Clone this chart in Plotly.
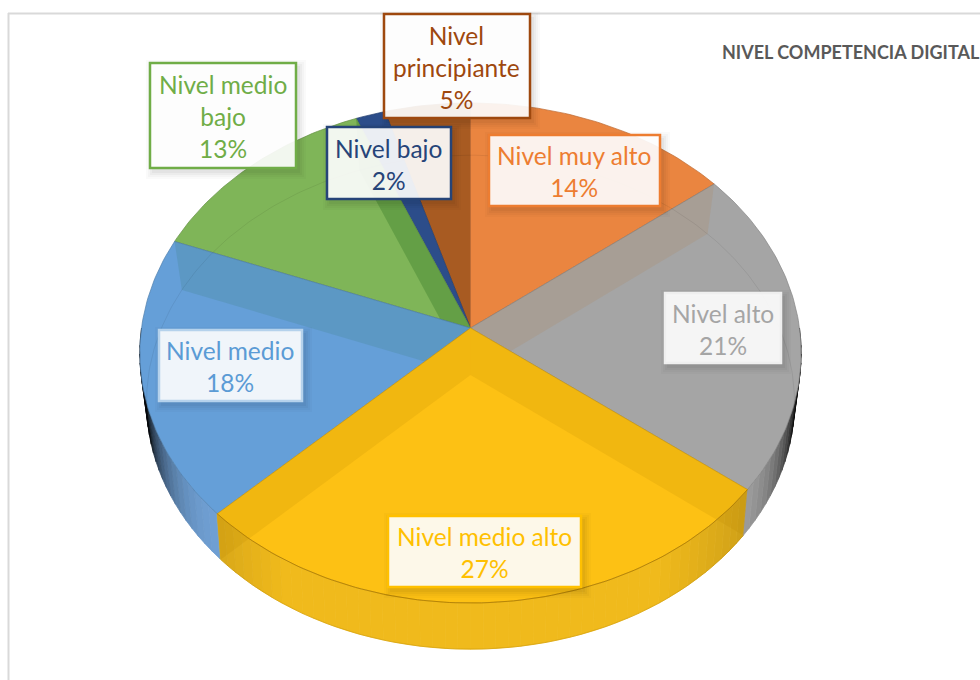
import math
import plotly.graph_objects as go

# ---- data ----
categories = ["Nivel muy alto", "Nivel alto", "Nivel medio alto", "Nivel medio",
              "Nivel medio bajo", "Nivel bajo", "Nivel principiante"]
shares = [14.4, 21.1, 27.2, 18.2, 12.9, 1.6, 4.6]
title_text = "NIVEL COMPETENCIA DIGITAL"

# ---- styles ----
face_rgb = [(234, 133, 64), (165, 165, 165), (253, 193, 20), (101, 159, 216),
            (127, 181, 88), (44, 77, 138), (168, 91, 34)]
wall_rgb = [(237, 125, 49), (165, 165, 165), (240, 186, 28), (112, 160, 212),
            (112, 173, 71), (38, 68, 120), (158, 72, 14)]
label_rgb = ["#ED7D31", "#A5A5A5", "#FFC000", "#5B9BD5", "#70AD47", "#264478", "#9E480E"]
border_col = ["#ED7D31", "#EFEFEF", "#FFC000", "#B5D2EC", "#70AD47", "#264478", "#9E480E"]
box_fill = ["rgba(255,255,255,0.91)"] * 7
band_col = ["rgba(0,0,0,0)", "rgba(180,120,60,0.15)", "rgba(180,130,0,0.16)",
            "rgba(60,125,120,0.2)", "rgba(40,110,30,0.3)", "rgba(0,0,0,0)", "rgba(0,0,0,0)"]
FONT = "Lato, Carlito, Calibri, sans-serif"

# ---- label box layout: left, right, top, bottom ----
boxes = [(489, 660, 135, 206), (665, 781, 293, 363), (388, 581, 516, 587), (159, 302, 330, 401),
         (150, 296, 63, 168), (327, 451, 127, 199), (384, 530, 14, 118)]
label_lines = [["Nivel muy alto"], ["Nivel alto"], ["Nivel medio alto"], ["Nivel medio"],
               ["Nivel medio", "bajo"], ["Nivel bajo"], ["Nivel", "principiante"]]

# ---- projection of the disk: centre, radii and perspective ----
TOP = dict(cx=470.5, cy=328, a=329, b=247.5, k=0.10)
BOT = dict(cx=470.5, cy=375, a=322, b=244.0, k=0.11)


def project(deg, p):
    t = math.radians(deg)
    x, y = math.sin(t), math.cos(t)
    w = 1 + p["k"] * y
    return p["cx"] + p["a"] * x / w, p["cy"] - p["b"] * y / w


def arc(d0, d1, p, step=1.0):
    n = max(2, int(abs(d1 - d0) / step) + 1)
    return [project(d0 + (d1 - d0) * i / (n - 1), p) for i in range(n)]


def rgb(c, f=1.0, a=None):
    r, g, b = [int(max(0, min(255, v * f))) for v in c]
    return f"rgb({r},{g},{b})" if a is None else f"rgba({r},{g},{b},{a})"


def poly(pts, fill, line=None, width=0.0):
    xs = [p[0] for p in pts] + [pts[0][0]]
    ys = [p[1] for p in pts] + [pts[0][1]]
    return go.Scatter(x=xs, y=ys, mode="lines", fill="toself", fillcolor=fill,
                      line=dict(color=line or fill, width=width), hoverinfo="skip", showlegend=False)


def path(pts, color, width):
    return go.Scatter(x=[p[0] for p in pts], y=[p[1] for p in pts], mode="lines",
                      line=dict(color=color, width=width), hoverinfo="skip", showlegend=False)


cum = [0.0]
for v in shares:
    cum.append(cum[-1] + v)
start = [c * 3.6 for c in cum[:-1]]
end = [c * 3.6 for c in cum[1:]]

fig = go.Figure()


def slice_at(deg):
    for i in range(len(shares)):
        if start[i] <= deg < end[i]:
            return i
    return len(shares) - 1


# outer wall, shaded with the angle
STEP = 2.0
deg = 90.0
while deg < 270.0:
    i = slice_at(deg + STEP / 2)
    d = abs(deg + STEP / 2 - 180) / 90
    f = 1.0 if d <= 0.5 else max(0.06, 1.0 - 8.0 * (d - 0.5) ** 2)
    if i == 2:
        f = 1.0 if d < 0.35 else 1.0 - 0.6 * (d - 0.35)
    pts = arc(deg, deg + STEP, TOP, 1) + arc(deg + STEP, deg, BOT, 1)
    c = rgb(wall_rgb[i], f)
    fig.add_trace(poly(pts, c, c, 0.8))
    deg += STEP


def band_pts(boundary):
    tx, ty = project(boundary, TOP)
    bx, by = project(boundary, BOT)
    return [(TOP["cx"], TOP["cy"]), (tx, ty), (bx, by), (BOT["cx"], BOT["cy"])]


def face(i):
    pts = [(TOP["cx"], TOP["cy"])] + arc(start[i], end[i], TOP)
    return poly(pts, rgb(face_rgb[i]), rgb(face_rgb[i], 0.8), 0.7)


# painter's order: each later face hides what the earlier band overhangs
for i in (6, 5, 0):
    fig.add_trace(face(i))
fig.add_trace(face(4))
fig.add_trace(poly(band_pts(end[4]), band_col[4]))
fig.add_trace(face(3))
fig.add_trace(poly(band_pts(end[3]), band_col[3]))
fig.add_trace(face(1))
fig.add_trace(poly(band_pts(end[0]), band_col[1]))
fig.add_trace(face(2))
fig.add_trace(poly(band_pts(end[1]), band_col[2]))
fig.add_trace(poly(band_pts(end[2]), band_col[2]))

# far rim of the lower disk, seen through the faces
fig.add_trace(path(arc(-108, 112, BOT), "rgba(0,0,0,0.07)", 1))
# front rim of the top disk
fig.add_trace(path(arc(start[2], end[2], TOP), "rgba(165,115,0,0.65)", 1))
# silhouette of the lower disk
fig.add_trace(path(arc(end[1], end[2], BOT), "rgba(190,140,0,0.5)", 0.8))

shapes = [
    dict(type="line", x0=8, x1=980, y0=13.5, y1=13.5, line=dict(color="#D9D9D9", width=2), layer="below"),
    dict(type="line", x0=8.5, x1=8.5, y0=13, y1=680, line=dict(color="#D9D9D9", width=2), layer="below"),
]
annotations = []
for i, (l, r, t, b) in enumerate(boxes):
    for grow, alpha in ((7, 0.018), (5, 0.022), (3, 0.03), (1, 0.035)):
        shapes.append(dict(type="rect", x0=l + 3 - grow, x1=r + 3 + grow, y0=t + 4 - grow, y1=b + 4 + grow,
                           line=dict(width=0), fillcolor=f"rgba(0,0,0,{alpha})", layer="above"))
    shapes.append(dict(type="rect", x0=l, x1=r, y0=t, y1=b, fillcolor=box_fill[i],
                       line=dict(color=border_col[i], width=2.5), layer="above"))
    lines = label_lines[i] + [f"{round(shares[i])}%"]
    annotations.append(dict(x=(l + r) / 2 - 0.5, y=(t + b) / 2 + 1, xref="x", yref="y", showarrow=False,
                            text="<br>".join(lines), align="center",
                            font=dict(family=FONT, size=24.5, color=label_rgb[i])))
annotations.append(dict(x=720, y=52, xref="x", yref="y", xanchor="left", showarrow=False, text=f"<b>{title_text}</b>",
                        font=dict(family=FONT, size=18, color="#595959")))

fig.update_layout(
    width=980, height=680, margin=dict(l=0, r=0, t=0, b=0), autosize=False,
    paper_bgcolor="white", plot_bgcolor="white", showlegend=False,
    xaxis=dict(range=[0, 980], visible=False, fixedrange=True),
    yaxis=dict(range=[680, 0], visible=False, fixedrange=True),
    shapes=shapes, annotations=annotations,
)
fig.write_html("out.html", config={"displayModeBar": False},
               post_script="document.body.style.margin='0';document.body.style.overflow='hidden';")
